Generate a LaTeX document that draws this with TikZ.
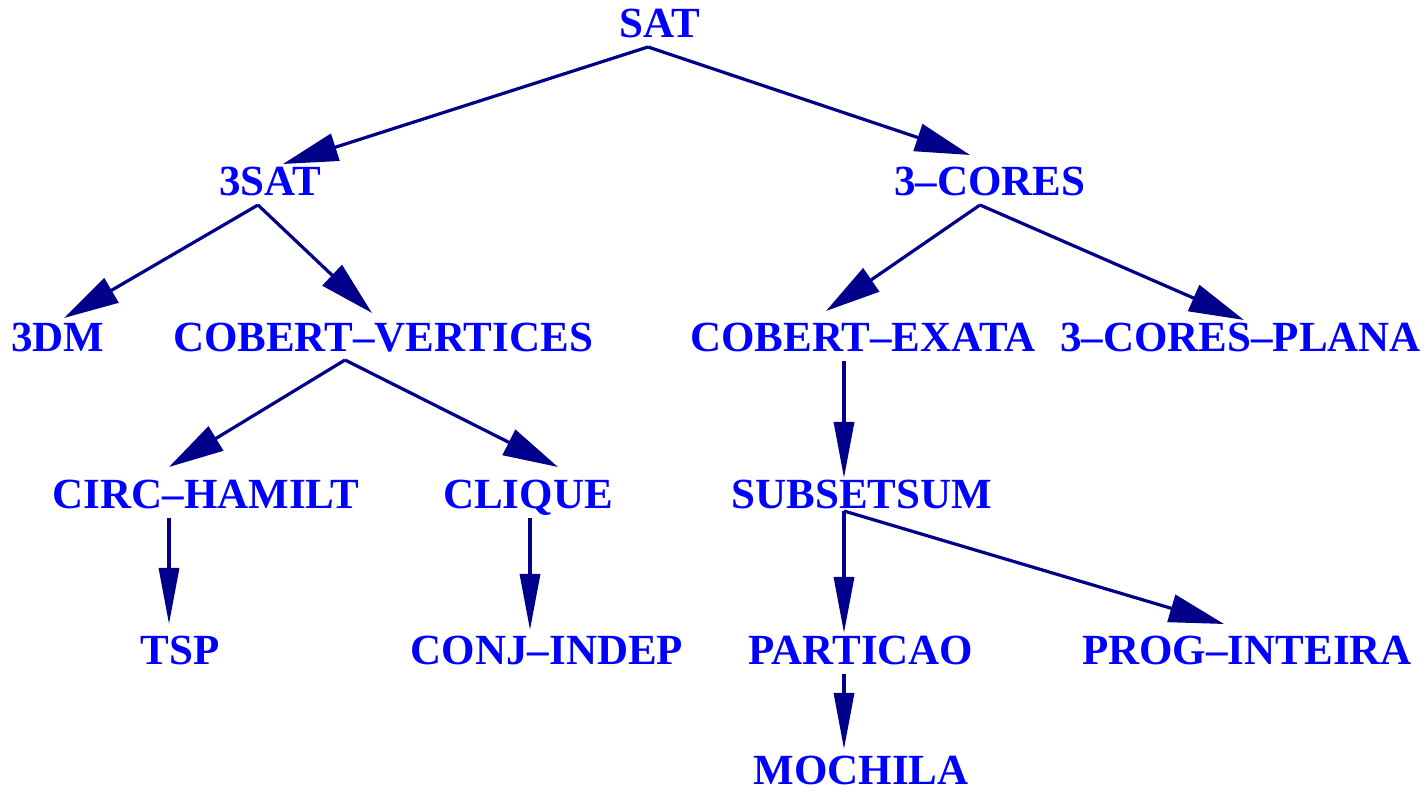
\documentclass[tikz,border=0pt]{standalone}
\usepackage{fontspec}
\setmainfont{Liberation Serif}
\usetikzlibrary{arrows.meta,calc}
\definecolor{txtblue}{RGB}{0,0,255}
\definecolor{linenavy}{RGB}{0,0,139}
\tikzset{
  lbl/.style={anchor=base,inner sep=0pt,text=txtblue,font=\fontsize{43}{43}\selectfont\bfseries},
  arr/.style={draw=linenavy,line width=3.2pt,-{Triangle[length=55pt,width=28pt]},fill=linenavy},
  varr/.style={draw=linenavy,line width=3.2pt,-{Triangle[length=56pt,width=20pt]},fill=linenavy}
}
\begin{document}
\begin{tikzpicture}[x=1pt,y=1pt]
\useasboundingbox (0,0) rectangle (1428,795);
% nodes (y = 795 - baseline in px)
\node[lbl] (sat)   at (660,757) {SAT};
\node[lbl] (s3)    at (270,599) {3SAT};
\node[lbl] (cores) at (990,599) {3–CORES};
\node[lbl] (dm)    at (58,443)  {3DM};
\node[lbl] (cv)    at (383,443) {COBERT–VERTICES};
\node[lbl] (ce)    at (863,443) {COBERT–EXATA};
\node[lbl,anchor=base west] (cp) at (1060,443) {3–CORES–PLANA};
\node[lbl] (ch)    at (206,286) {CIRC–HAMILT};
\node[lbl] (cl)    at (528,286) {CLIQUE};
\node[lbl] (ss)    at (862,286) {SUBSETSUM};
\node[lbl] (tsp)   at (180,130) {TSP};
\node[lbl] (ci)    at (547,130) {CONJ–INDEP};
\node[lbl] (pa)    at (861,130) {PARTICAO};
\node[lbl] (pi)    at (1247,130) {PROG–INTEIRA};
\node[lbl] (mo)    at (861,10)  {MOCHILA};
% edges
\draw[arr] ($(sat.base)+(-12,-9)$) -- ($(s3.base)+(13,32)$);
\draw[arr] ($(sat.base)+(-12,-9)$) -- ($(cores.base)+(-20,41)$);
\draw[arr] ($(s3.base)+(-12,-9)$) -- ($(dm.base)+(6,34)$);
\draw[arr] ($(s3.base)+(-12,-9)$) -- ($(cv.base)+(-11,39)$);
\draw[arr] ($(cores.base)+(-10,-9)$) -- ($(ce.base)+(-37,41)$);
\draw[arr] ($(cores.base)+(-10,-9)$) -- ($(cp.base west)+(184,32)$);
\draw[arr] ($(cv.base)+(-38,-8)$) -- ($(ch.base)+(-37,42)$);
\draw[arr] ($(cv.base)+(-38,-8)$) -- ($(cl.base)+(30,42)$);
\draw[varr] ($(ce.base)+(-19,-9)$) -- ($(ss.base)+(-18,31)$);
\draw[varr] ($(ch.base)+(-37,-9)$) -- ($(tsp.base)+(-11,41)$);
\draw[varr] ($(cl.base)+(2,-9)$) -- ($(ci.base)+(-17,35)$);
\draw[varr] ($(ss.base)+(-18,-2)$) -- ($(pa.base)+(-17,32)$);
\draw[arr] ($(ss.base)+(-18,-2)$) -- ($(pi.base)+(-23,41)$);
\draw[varr] ($(pa.base)+(-17,-9)$) -- ($(mo.base)+(-17,36)$);
\end{tikzpicture}
\end{document}
